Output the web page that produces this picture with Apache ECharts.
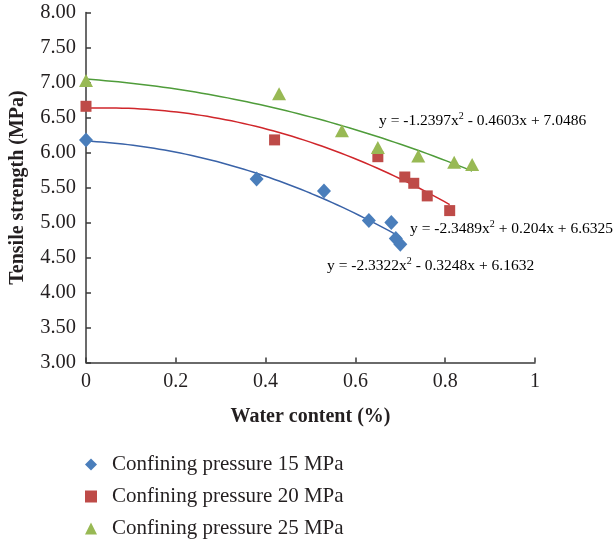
<!DOCTYPE html>
<html>
<head>
<meta charset="utf-8">
<script src="https://cdn.jsdelivr.net/npm/echarts@6/dist/echarts.min.js"></script>
<style>html,body{margin:0;padding:0;background:#fff}#c{width:614px;height:544px}</style>
</head>
<body>
<div id="c"></div>
<script>
// ---- data ----
var names = ['Confining pressure 15 MPa', 'Confining pressure 20 MPa', 'Confining pressure 25 MPa'];
var x15 = [0, 0.38, 0.53, 0.63, 0.68, 0.69, 0.70];
var y15 = [6.18, 5.62, 5.45, 5.03, 5.00, 4.77, 4.69];
var x20 = [0, 0.42, 0.65, 0.71, 0.73, 0.76, 0.81];
var y20 = [6.66, 6.18, 5.94, 5.65, 5.56, 5.38, 5.17];
var x25 = [0, 0.43, 0.57, 0.65, 0.74, 0.82, 0.86];
var y25 = [7.03, 6.84, 6.31, 6.07, 5.95, 5.86, 5.83];
// polynomial trendline coefficients shown on the chart [a, b, c] for y = a x^2 + b x + c
var fit15 = [-2.3322, -0.3248, 6.1632];
var fit20 = [-2.3489, 0.204, 6.6325];
var fit25 = [-1.2397, -0.4603, 7.0486];
var eq15 = ['y = -2.3322x', ' - 0.3248x + 6.1632'];
var eq20 = ['y = -2.3489x', ' + 0.204x + 6.6325'];
var eq25 = ['y = -1.2397x', ' - 0.4603x + 7.0486'];
var xTicks = [0, 0.2, 0.4, 0.6, 0.8, 1];
var yTicks = [3, 3.5, 4, 4.5, 5, 5.5, 6, 6.5, 7, 7.5, 8];

function pts(xs, ys) { return xs.map(function (v, i) { return [v, ys[i]]; }); }
function trend(c, xmax) {
  var out = [];
  var n = 60;
  for (var i = 0; i <= n; i++) {
    var x = xmax * i / n;
    out.push([x, c[0] * x * x + c[1] * x + c[2]]);
  }
  return out;
}

var FONT = '"Liberation Serif", "DejaVu Serif", serif';
var C15 = '#4a7ebb', C20 = '#be4b48', C25 = '#98b954';
var L15 = '#3a63a8', L20 = '#d0262b', L25 = '#4f9c3a';

var chart = echarts.init(document.getElementById('c'));
function eqText(e) { return '{a|' + e[0] + '}{s|2}{a|' + e[1] + '}'; }
var eqRich = {
  a: { fontFamily: FONT, fontSize: 15.5, color: '#231f20' },
  s: { fontFamily: FONT, fontSize: 10, color: '#231f20', padding: [0, 0, 10, 0] }
};

chart.setOption({
  animation: false,
  backgroundColor: '#fff',
  grid: { left: 86, right: 79, top: 12.5, bottom: 181.5, containLabel: false, outerBoundsMode: 'none' },
  xAxis: {
    type: 'value', min: 0, max: 1, interval: 0.2,
    name: 'Water content (%)', nameLocation: 'middle', nameGap: 44,
    nameTextStyle: { fontFamily: FONT, fontSize: 20, fontWeight: 'bold', color: '#231f20' },
    axisLine: { show: true, lineStyle: { color: '#3a3a3a', width: 1.5 } },
    axisTick: { show: true, inside: true, length: 5, lineStyle: { color: '#3a3a3a', width: 1.5 } },
    axisLabel: { fontFamily: FONT, fontSize: 20, color: '#231f20', margin: 9,
      formatter: function (v) { return xTicks.indexOf(Math.round(v * 10) / 10) >= 0 ? String(Math.round(v * 10) / 10) : ''; } },
    splitLine: { show: false }
  },
  yAxis: {
    type: 'value', min: 3, max: 8, interval: 0.5,
    name: 'Tensile strength (MPa)', nameLocation: 'middle', nameGap: 58, nameRotate: 90,
    nameTextStyle: { fontFamily: FONT, fontSize: 20, fontWeight: 'bold', color: '#231f20' },
    axisLine: { show: true, lineStyle: { color: '#3a3a3a', width: 1.5 } },
    axisTick: { show: true, inside: true, length: 5, lineStyle: { color: '#3a3a3a', width: 1.5 } },
    axisLabel: { fontFamily: FONT, fontSize: 20.5, color: '#231f20', margin: 10,
      formatter: function (v) { return v.toFixed(2); } },
    splitLine: { show: false }
  },
  legend: {
    orient: 'vertical', left: 80, top: 449, itemGap: 11,
    itemWidth: 12, itemHeight: 12,
    data: names,
    textStyle: { fontFamily: FONT, fontSize: 21, color: '#231f20', padding: [0, 0, 0, 10] }
  },
  series: [
    { type: 'line', data: trend(fit15, x15[x15.length - 1]), showSymbol: false, silent: true, z: 1,
      lineStyle: { color: L15, width: 1.5 }, itemStyle: { color: L15 } },
    { type: 'line', data: trend(fit20, x20[x20.length - 1]), showSymbol: false, silent: true, z: 1,
      lineStyle: { color: L20, width: 1.5 }, itemStyle: { color: L20 } },
    { type: 'line', data: trend(fit25, x25[x25.length - 1]), showSymbol: false, silent: true, z: 1,
      lineStyle: { color: L25, width: 1.5 }, itemStyle: { color: L25 } },
    { name: names[0], type: 'scatter', data: pts(x15, y15), symbol: 'diamond', symbolSize: [14, 15], z: 3,
      itemStyle: { color: C15, opacity: 1 } },
    { name: names[1], type: 'scatter', data: pts(x20, y20), symbol: 'rect', symbolSize: 11, z: 3,
      itemStyle: { color: C20, opacity: 1 } },
    { name: names[2], type: 'scatter', data: pts(x25, y25), symbol: 'triangle', symbolSize: [14, 13], z: 3,
      itemStyle: { color: C25, opacity: 1 } }
  ],
  graphic: [
    { type: 'text', x: 379, y: 121, style: { text: eqText(eq25), rich: eqRich, verticalAlign: 'middle' } },
    { type: 'text', x: 410, y: 229, style: { text: eqText(eq20), rich: eqRich, verticalAlign: 'middle' } },
    { type: 'text', x: 327, y: 266, style: { text: eqText(eq15), rich: eqRich, verticalAlign: 'middle' } }
  ]
});
</script>
</body>
</html>
